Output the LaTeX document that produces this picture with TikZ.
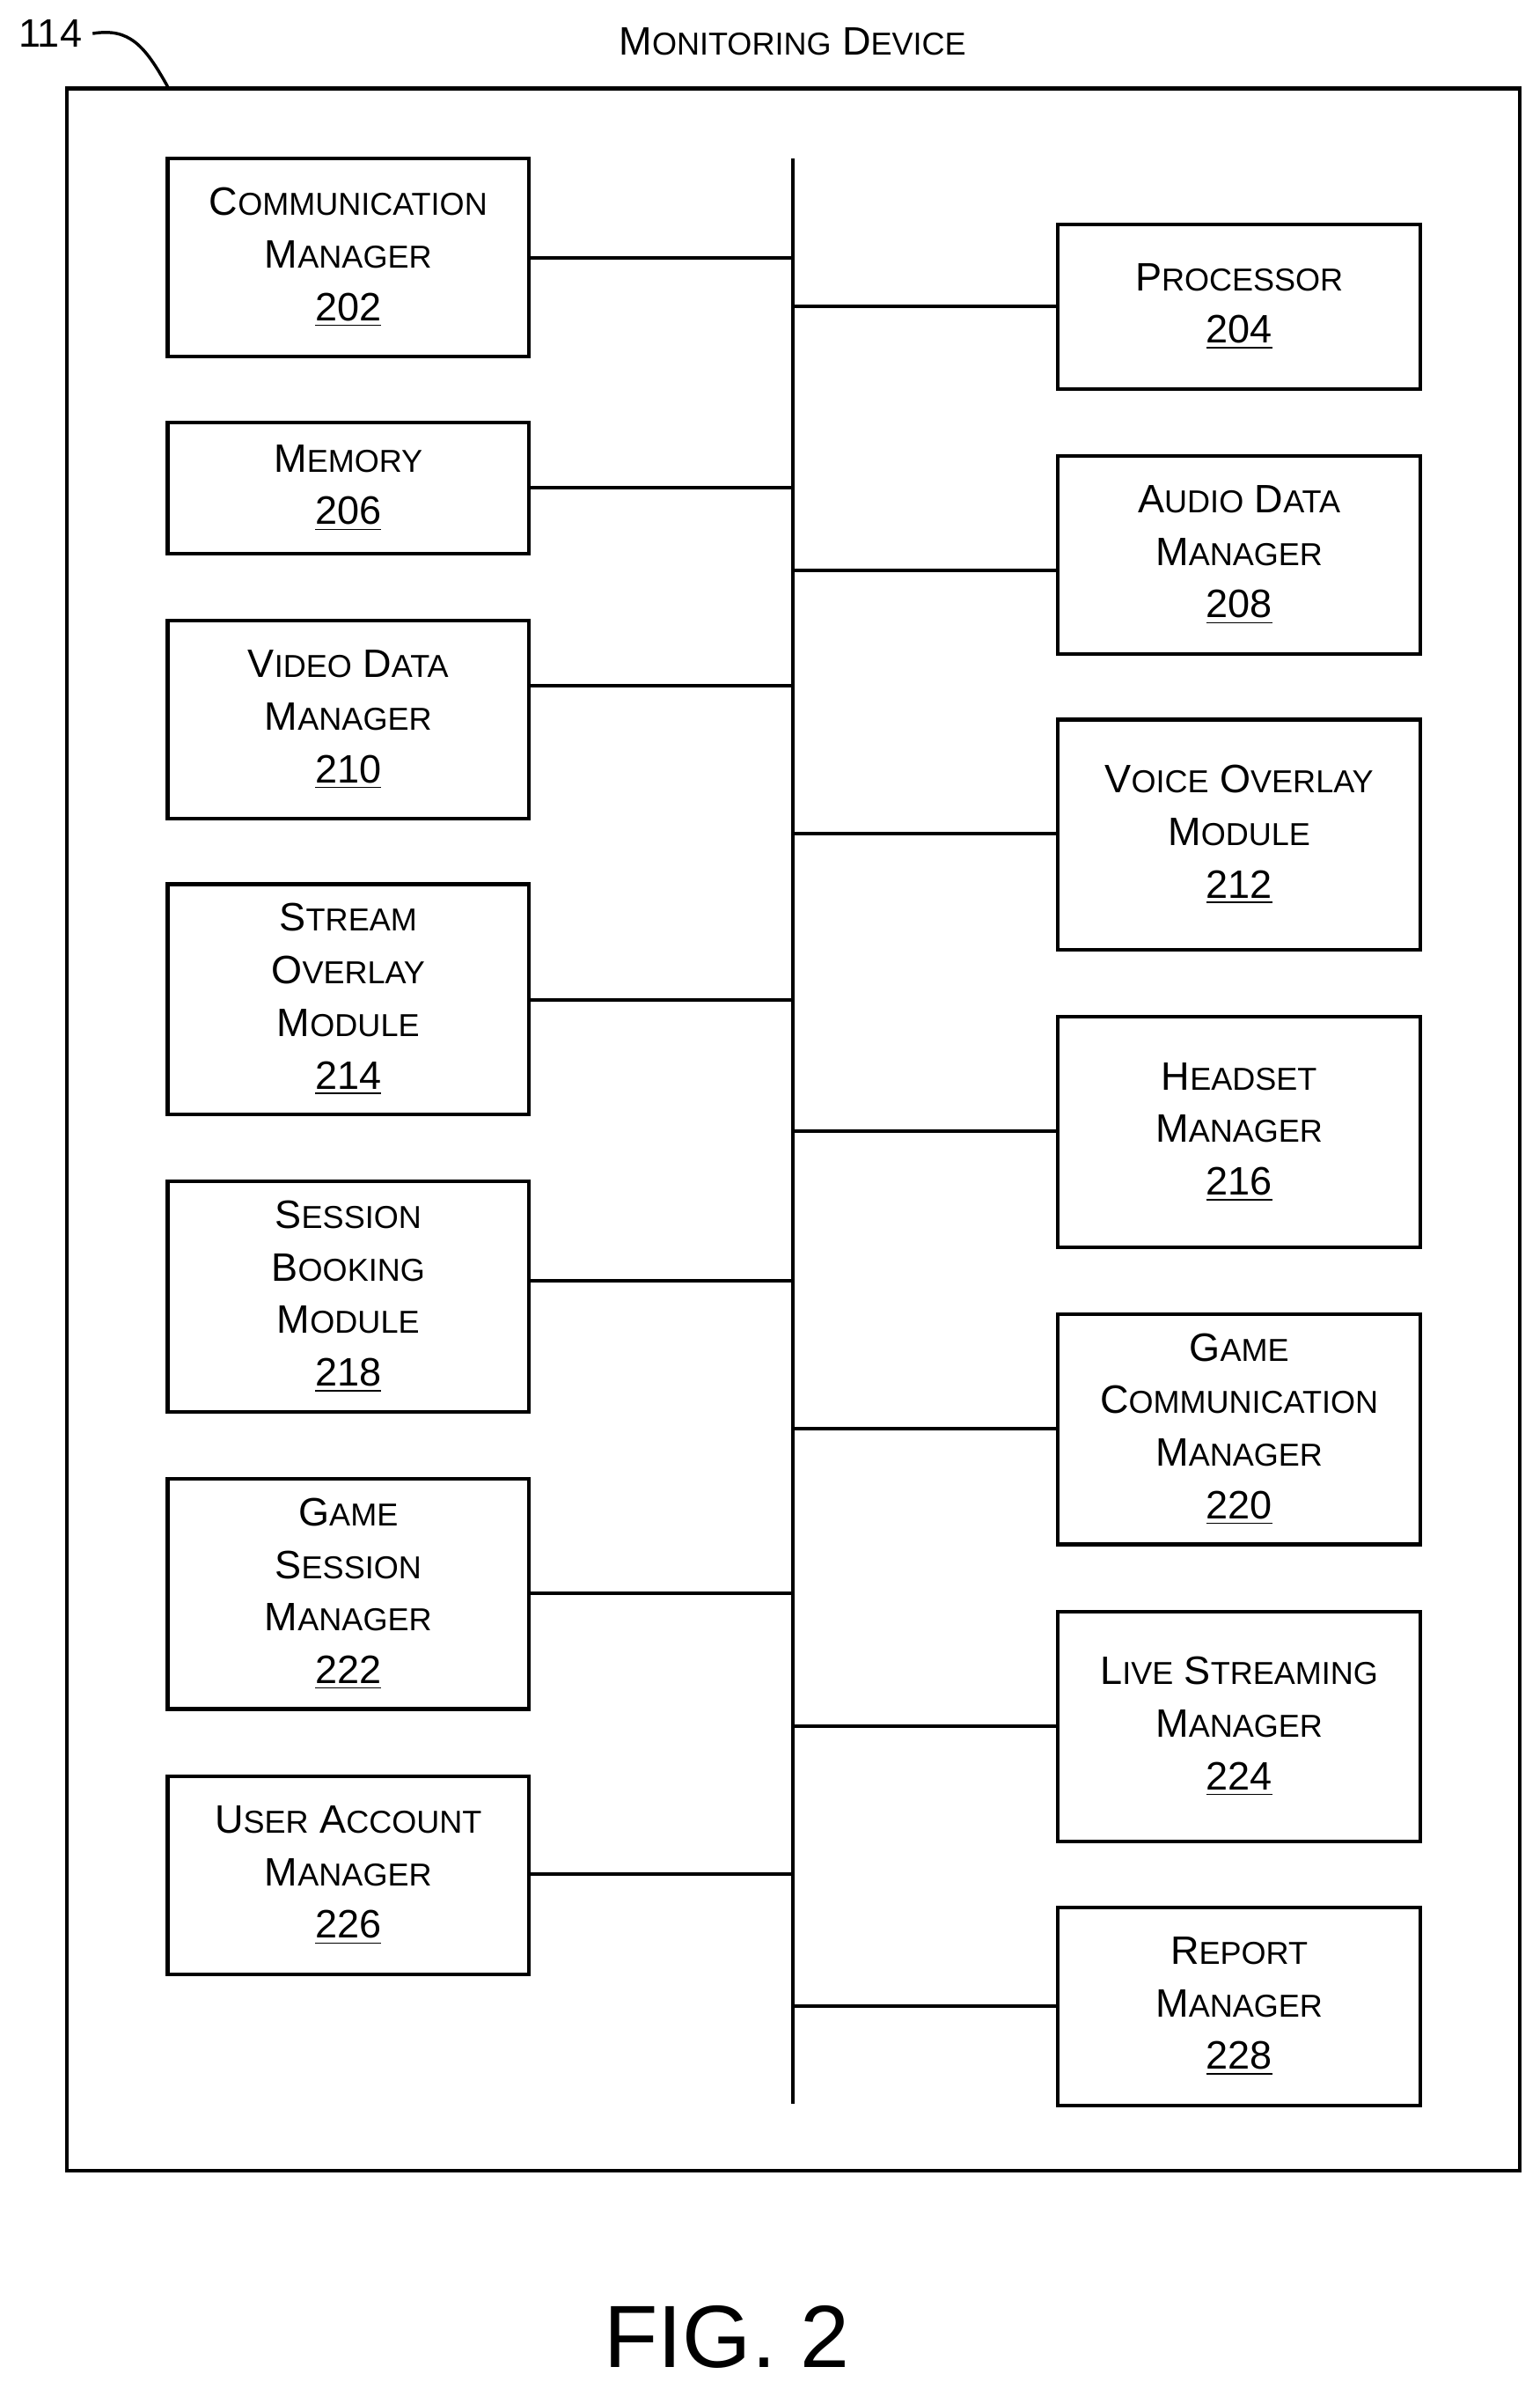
\documentclass[tikz,border=0pt]{standalone}
\usepackage{fontspec}
\setmainfont{Liberation Sans}
\newcommand{\SCx}[2]{{#1\fontsize{10.4}{17.25}\selectfont #2}}
\begin{document}
\begin{tikzpicture}[x=0.5pt,y=-0.5pt,
  box/.style={draw,line width=1.2pt,align=center,font=\fontsize{13}{17.25}\selectfont,inner sep=0pt},
  conn/.style={line width=1.2pt}]
\node[draw,line width=1.2pt,minimum width=476.5pt,minimum height=683pt,inner sep=0] (dev) at (520.5,741) {};
\node[font=\fontsize{13}{15}\selectfont] (title) at (520,27) {\SCx{M}{ONITORING} \SCx{D}{EVICE}};
\node[font=\fontsize{13}{15}\selectfont] (ref) at (33,22) {114};
\draw[line width=1pt] (ref.east) .. controls (85,18) and (95,30) .. (dev.north west -| 110,58);
\coordinate (bt) at (520,104);
\coordinate (bb) at (520,1380);
\draw[conn] (bt) -- (bb);
\newcommand{\LB}[5]{\node[box,minimum width=118.5pt,minimum height={(#3-#2)/2*1pt}] (#1) at (228.5,{(#2+#3)/2}) {#5};%
\coordinate (#1b) at (520,#4);\draw[conn] (#1.east |- #1b) -- (#1b);}%
\newcommand{\RB}[5]{\node[box,minimum width=119pt,minimum height={(#3-#2)/2*1pt}] (#1) at (813,{(#2+#3)/2}) {#5};%
\coordinate (#1b) at (520,#4);\draw[conn] (#1.west |- #1b) -- (#1b);}%
\LB{n202}{104}{234}{169}{\SCx{C}{OMMUNICATION}\\\SCx{M}{ANAGER}\\\underline{202}}
\LB{n206}{277}{363}{320}{\SCx{M}{EMORY}\\\underline{206}}
\LB{n210}{407}{537}{450}{\SCx{V}{IDEO} \SCx{D}{ATA}\\\SCx{M}{ANAGER}\\\underline{210}}
\LB{n214}{580}{731}{656}{\SCx{S}{TREAM}\\\SCx{O}{VERLAY}\\\SCx{M}{ODULE}\\\underline{214}}
\LB{n218}{775}{926}{840}{\SCx{S}{ESSION}\\\SCx{B}{OOKING}\\\SCx{M}{ODULE}\\\underline{218}}
\LB{n222}{970}{1121}{1045}{\SCx{G}{AME}\\\SCx{S}{ESSION}\\\SCx{M}{ANAGER}\\\underline{222}}
\LB{n226}{1165}{1295}{1229}{\SCx{U}{SER} \SCx{A}{CCOUNT}\\\SCx{M}{ANAGER}\\\underline{226}}
\RB{n204}{147}{255}{201}{\SCx{P}{ROCESSOR}\\\underline{204}}
\RB{n208}{299}{429}{374}{\SCx{A}{UDIO} \SCx{D}{ATA}\\\SCx{M}{ANAGER}\\\underline{208}}
\RB{n212}{472}{623}{547}{\SCx{V}{OICE} \SCx{O}{VERLAY}\\\SCx{M}{ODULE}\\\underline{212}}
\RB{n216}{667}{818}{742}{\SCx{H}{EADSET}\\\SCx{M}{ANAGER}\\\underline{216}}
\RB{n220}{862}{1013}{937}{\SCx{G}{AME}\\\SCx{C}{OMMUNICATION}\\\SCx{M}{ANAGER}\\\underline{220}}
\RB{n224}{1057}{1208}{1132}{\SCx{L}{IVE} \SCx{S}{TREAMING}\\\SCx{M}{ANAGER}\\\underline{224}}
\RB{n228}{1251}{1381}{1316}{\SCx{R}{EPORT}\\\SCx{M}{ANAGER}\\\underline{228}}
\node[font=\fontsize{29}{32}\selectfont] (fig) at (477,1533) {FIG. 2};
\pgfresetboundingbox
\useasboundingbox (0,0) rectangle (1010,1567);
\end{tikzpicture}
\end{document}
